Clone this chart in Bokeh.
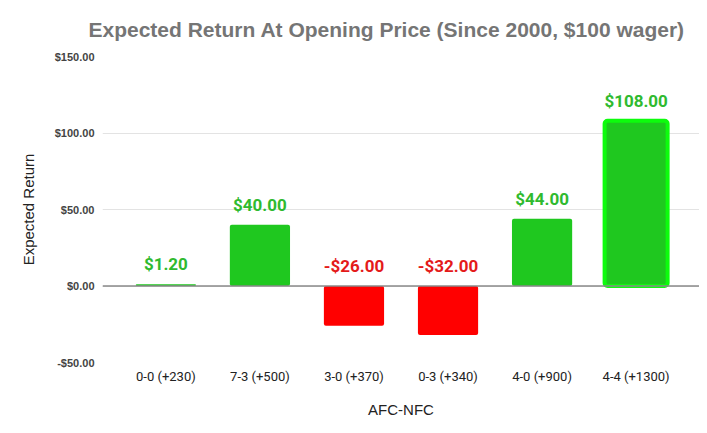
from bokeh.plotting import figure
from bokeh.models import ColumnDataSource, FactorRange, Range1d, FixedTicker, Span
from bokeh.core.properties import value
from bokeh.embed import file_html
from bokeh.resources import INLINE

categories = ["0-0 (+230)", "7-3 (+500)", "3-0 (+370)", "0-3 (+340)", "4-0 (+900)", "4-4 (+1300)"]
returns = [1.20, 40.00, -26.00, -32.00, 44.00, 108.00]
labels = ["$1.20", "$40.00", "-$26.00", "-$32.00", "$44.00", "$108.00"]
highlight = [False, False, False, False, False, True]
y_ticks = [-50, 0, 50, 100, 150]
y_tick_labels = ["-$50.00", "$0.00", "$50.00", "$100.00", "$150.00"]

GREEN = "#1fc81f"
RED = "#ff0000"
GREEN_TXT = "#2fba2f"
RED_TXT = "#e41a1a"

bar_colors = [GREEN if v >= 0 else RED for v in returns]
txt_colors = [GREEN_TXT if v >= 0 else RED_TXT for v in returns]
label_y = [max(v, 0) for v in returns]

src = ColumnDataSource(dict(cat=categories, val=returns, color=bar_colors,
                            tcolor=txt_colors, label=labels, ly=label_y))
hl = [i for i, h in enumerate(highlight) if h]
src_hl = ColumnDataSource(dict(cat=[categories[i] for i in hl], val=[returns[i] for i in hl]))

p = figure(width=699, height=425, output_backend="svg", toolbar_location=None,
           x_range=FactorRange(*categories, range_padding=0.058),
           y_range=Range1d(-50, 150),
           min_border_left=102, min_border_right=0, min_border_top=56, min_border_bottom=63)

p.title.text = "Expected Return At Opening Price (Since 2000, $100 wager)"
p.title.align = "left"
p.title.offset = -14
p.title.standoff = 31
p.title.text_font = "Liberation Sans"
p.title.text_font_size = "21px"
p.title.text_color = "#757575"
p.title.text_font_style = "bold"

p.add_layout(Span(location=0, dimension="width", line_color="#8a8a8a", line_width=1.3))

p.vbar(x="cat", top="val", bottom=0, width=0.64, source=src, fill_color="color",
       line_color=None, border_radius=2)
p.vbar(x="cat", top="val", bottom=0, width=0.67, source=src_hl, fill_color=GREEN,
       line_color="#0dfc0d", line_width=4, border_radius=3)

p.text(x="cat", y="ly", text="label", source=src, text_color="tcolor",
       text_font=value("Roboto"), text_font_style="bold", text_font_size="17px",
       text_align="center", text_baseline="alphabetic", y_offset=-20)

p.outline_line_color = None
p.xgrid.grid_line_color = None
p.ygrid.grid_line_color = "#e3e3e3"
p.ygrid.ticker = FixedTicker(ticks=y_ticks)

p.yaxis.ticker = FixedTicker(ticks=y_ticks)
p.yaxis.major_label_overrides = {t: l for t, l in zip(y_ticks, y_tick_labels)}
p.yaxis.axis_line_color = None
p.yaxis.major_tick_line_color = None
p.yaxis.minor_tick_line_color = None
p.yaxis.major_tick_out = 0
p.yaxis.major_tick_in = 0
p.yaxis.major_label_text_font = "Liberation Sans"
p.yaxis.major_label_text_font_size = "11px"
p.yaxis.major_label_text_color = "#444444"
p.yaxis.major_label_text_font_style = "bold"
p.yaxis.major_label_standoff = 8
p.yaxis.axis_label = "Expected Return"
p.yaxis.axis_label_text_font = "Liberation Sans"
p.yaxis.axis_label_text_font_size = "15px"
p.yaxis.axis_label_text_font_style = "normal"
p.yaxis.axis_label_text_color = "#222222"
p.yaxis.axis_label_standoff = 15

p.xaxis.axis_line_color = None
p.xaxis.major_tick_line_color = None
p.xaxis.minor_tick_line_color = None
p.xaxis.major_tick_out = 0
p.xaxis.major_tick_in = 0
p.xaxis.major_label_text_font = "Roboto"
p.xaxis.major_label_text_font_size = "13px"
p.xaxis.major_label_text_color = "#222222"
p.xaxis.major_label_standoff = 6
p.xaxis.axis_label = "AFC-NFC"
p.xaxis.axis_label_text_font = "Liberation Sans"
p.xaxis.axis_label_text_font_size = "15px"
p.xaxis.axis_label_text_font_style = "normal"
p.xaxis.axis_label_text_color = "#222222"
p.xaxis.axis_label_standoff = 14

open("out.html", "w").write(file_html(p, INLINE))
